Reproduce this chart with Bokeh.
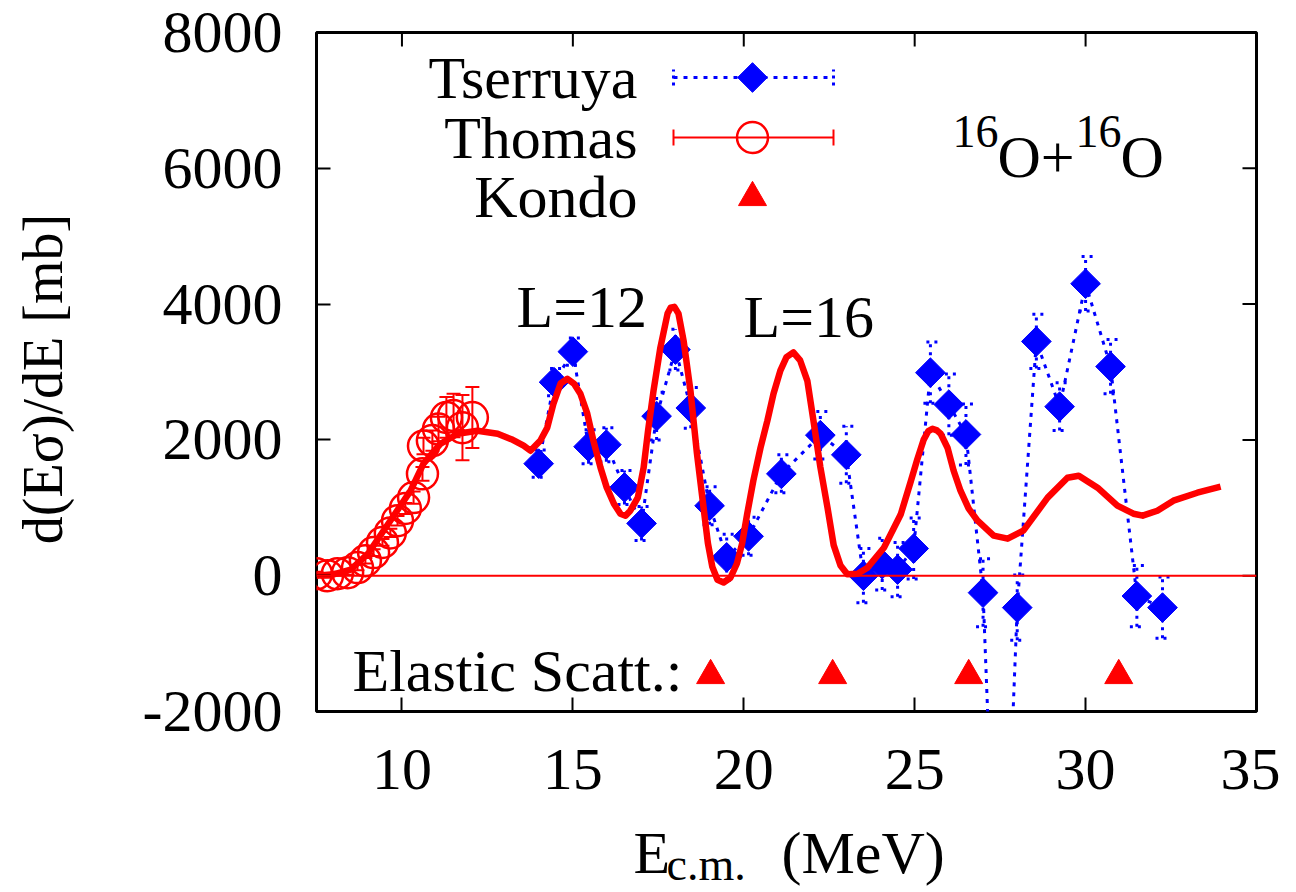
import math
from bokeh.plotting import figure
from bokeh.layouts import column
from bokeh.models import (ColumnDataSource, Whisker, TeeHead, Label, Span,
                          FixedTicker, Range1d)
from bokeh.embed import file_html
from bokeh.resources import INLINE

# ---------------- data ----------------
tserruya_E = [14.0, 14.45, 15.0, 15.46, 15.98, 16.51, 17.01, 17.45, 18.0, 18.45,
              19.0, 19.5, 20.14, 21.1, 22.24, 23.0, 23.5, 24.05, 24.5, 24.97,
              25.46, 26.0, 26.5, 27.0, 27.5, 28.0, 28.56, 29.24, 30.0, 30.73,
              31.5, 32.25]
tserruya_Y = [1650, 2850, 3300, 1900, 1930, 1300, 770, 2350, 3330, 2470,
              1030, 270, 580, 1500, 2070, 1780, 0, 170, 90, 400,
              2990, 2520, 2080, -250, -6800, -470, 3450, 2490, 4300, 3080,
              -300, -470]
tserruya_err = [200, 200, 200, 250, 250, 250, 250, 350, 300, 300,
                280, 340, 280, 280, 350, 420, 400, 380, 400, 450,
                450, 450, 450, 500, 600, 480, 400, 350, 400, 400,
                450, 450]

thomas_E = [7.5, 7.82, 8.11, 8.41, 8.7, 8.93, 9.17, 9.43, 9.66, 9.87,
            10.1, 10.34, 10.6, 10.63, 10.89, 11.07, 11.3, 11.51, 11.77, 12.06]
thomas_Y = [30, 0, 30, 45, 120, 220, 340, 490, 630, 810,
            990, 1150, 1500, 1910, 1990, 2160, 2330, 2360, 2180, 2330]
thomas_err = [30, 30, 30, 30, 40, 40, 50, 50, 60, 70,
              80, 90, 100, 120, 150, 180, 300, 320, 480, 450]

kondo_E = [19.03, 22.6, 26.58, 30.97]
kondo_Y = [-1470, -1470, -1470, -1470]

theory_E = [7.5, 8.0, 8.5, 9.0, 9.66, 10.25, 10.63, 11.13, 11.63, 12.21,
            12.8, 13.2, 13.56, 13.76, 14.05, 14.25, 14.43, 14.64, 14.84, 15.03,
            15.22, 15.42, 15.6, 15.81, 15.99, 16.2, 16.39, 16.54, 16.68, 16.9,
            17.07, 17.2, 17.36, 17.56, 17.77, 17.86, 17.97, 18.09, 18.24, 18.44,
            18.63, 18.8, 18.95, 19.08, 19.23, 19.41, 19.61, 19.8, 19.95, 20.1,
            20.28, 20.49, 20.69, 20.87, 21.07, 21.25, 21.45, 21.65, 21.86, 22.04,
            22.24, 22.45, 22.63, 22.83, 23.03, 23.33, 23.62, 24.1, 24.59, 24.88,
            25.08, 25.26, 25.4, 25.52, 25.65, 25.76, 25.96, 26.14, 26.34, 26.58,
            26.84, 27.31, 27.72, 28.18, 28.89, 29.47, 29.8, 30.35, 30.93, 31.4,
            31.67, 32.1, 32.57, 33.27, 33.95]
theory_Y = [0, 20, 90, 320, 810, 1250, 1650, 1944, 2090, 2135,
            2090, 2010, 1915, 1840, 1990, 2180, 2530, 2830, 2900, 2830,
            2680, 2390, 1990, 1590, 1300, 1060, 913, 884, 957, 1150,
            1590, 2135, 2725, 3360, 3860, 3947, 3960, 3860, 3460, 2725,
            1800, 1100, 480, 130, -60, -100, -30, 180, 470, 910,
            1400, 1885, 2283, 2680, 3020, 3220, 3290, 3170, 2870, 2280,
            1600, 1000, 450, 150, 20, 30, 118, 412, 900, 1380,
            1720, 2000, 2130, 2165, 2140, 2091, 1885, 1546, 1252, 987,
            810, 590, 545, 663, 1150, 1443, 1473, 1296, 1031, 913,
            884, 957, 1105, 1222, 1311]

x_ticks = [10, 15, 20, 25, 30, 35]
x_tick_labels = ["10", "15", "20", "25", "30", "35"]
y_ticks = [-2000, 0, 2000, 4000, 6000, 8000]
y_tick_labels = ["-2000", "0", "2000", "4000", "6000", "8000"]

# ---------------- layout / style ----------------
X_MIN, X_MAX = 7.5, 35
Y_MIN, Y_MAX = -2000, 8000
FONT = "Liberation Serif"
FS_PX = 60
FS = f"{FS_PX}px"
FS_SMALL_PX = 46
RED = "#ff0000"
BLUE = "#0000ff"
W = 1280
H_MAIN = 815
H_TITLE = 77
BASE_SHIFT = 0.35   # baseline correction (fraction of font size)

# frame position on the page (pixels)
FX0, FX1, FY0, FY1 = 316, 1256, 32, 711


def dx(px):
    return X_MIN + (px - FX0) * (X_MAX - X_MIN) / (FX1 - FX0)


def dy(py):
    return Y_MIN + (FY1 - py) * (Y_MAX - Y_MIN) / (FY1 - FY0)


p = figure(width=W, height=H_MAIN, x_range=(X_MIN, X_MAX), y_range=(Y_MIN, Y_MAX),
           output_backend="svg", toolbar_location=None,
           min_border_left=FX0, min_border_right=W - FX1, min_border_top=FY0,
           min_border_bottom=H_MAIN - FY1)
p.xgrid.visible = False
p.ygrid.visible = False
p.outline_line_color = "black"
p.outline_line_width = 3
p.outline_line_alpha = 1.0
p.background_fill_color = "white"
p.border_fill_color = "white"

for ax in (p.xaxis[0], p.yaxis[0]):
    ax.axis_line_color = None
    ax.major_tick_in = 14
    ax.major_tick_out = 0
    ax.major_tick_line_width = 2
    ax.major_tick_line_color = "black"
    ax.minor_tick_line_color = None
    ax.major_label_text_font = FONT
    ax.major_label_text_color = "black"
    ax.major_label_text_font_size = FS

p.xaxis.ticker = FixedTicker(ticks=x_ticks)
p.xaxis.major_label_overrides = {t: l for t, l in zip(x_ticks, x_tick_labels)}
p.yaxis.ticker = FixedTicker(ticks=y_ticks)
p.yaxis.major_label_overrides = {t: l for t, l in zip(y_ticks, y_tick_labels)}
p.xaxis.major_label_standoff = 38
p.yaxis.major_label_standoff = 34

p.yaxis.axis_label = "d(E\u03c3)/dE  [mb]"
p.yaxis.axis_label_text_font = FONT
p.yaxis.axis_label_text_font_size = "56px"
p.yaxis.axis_label_text_font_style = "normal"
p.yaxis.axis_label_text_color = "black"
p.yaxis.axis_label_standoff = 66

# ticks on the right and top borders (mirror of the main ticks)
tlx = 14 * (X_MAX - X_MIN) / (FX1 - FX0)
tly = 14 * (Y_MAX - Y_MIN) / (FY1 - FY0)
p.segment([X_MAX - tlx] * len(y_ticks), y_ticks, [X_MAX] * len(y_ticks), y_ticks,
          line_color="black", line_width=2)
p.segment(x_ticks, [Y_MAX - tly] * len(x_ticks), x_ticks, [Y_MAX] * len(x_ticks),
          line_color="black", line_width=2)

# ---------------- Tserruya ----------------
ts_src = ColumnDataSource(dict(x=tserruya_E, y=tserruya_Y))
p.line("x", "y", source=ts_src, line_color=BLUE, line_width=3, line_dash="4 6")
ts_in = [i for i, v in enumerate(tserruya_Y) if Y_MIN < v < Y_MAX]
ts_err_src = ColumnDataSource(dict(
    x=[tserruya_E[i] for i in ts_in],
    lo=[tserruya_Y[i] - tserruya_err[i] for i in ts_in],
    hi=[tserruya_Y[i] + tserruya_err[i] for i in ts_in]))
p.add_layout(Whisker(source=ts_err_src, base="x", lower="lo", upper="hi",
                     dimension="height", line_color=BLUE, line_width=3, line_dash="3 5",
                     upper_head=TeeHead(size=14, line_color=BLUE, line_width=3, line_dash="3 5"),
                     lower_head=TeeHead(size=14, line_color=BLUE, line_width=3, line_dash="3 5")))
p.scatter("x", "y", source=ts_src, marker="square", angle=math.pi / 4, size=21,
          fill_color=BLUE, line_color=BLUE, line_width=1)

# ---------------- Thomas ----------------
th_src = ColumnDataSource(dict(x=thomas_E, y=thomas_Y,
                               lo=[y - e for y, e in zip(thomas_Y, thomas_err)],
                               hi=[y + e for y, e in zip(thomas_Y, thomas_err)]))
p.add_layout(Whisker(source=th_src, base="x", lower="lo", upper="hi",
                     dimension="height", line_color=RED, line_width=2,
                     upper_head=TeeHead(size=14, line_color=RED, line_width=2),
                     lower_head=TeeHead(size=14, line_color=RED, line_width=2)))
p.scatter("x", "y", source=th_src, marker="circle", size=31, fill_color=None,
          line_color=RED, line_width=2.5)

# zero line
p.add_layout(Span(location=0, dimension="width", line_color=RED, line_width=2))

# theory curve
p.line(theory_E, theory_Y, line_color=RED, line_width=6.5, line_join="round")

# Kondo
p.scatter(kondo_E, kondo_Y, marker="triangle", size=28, fill_color=RED,
          line_color=RED, line_width=1)

# ---------------- texts ----------------


def lab(fig, text, x, y, size_px, align="left", conv=True):
    """Place a text whose alphabetic baseline is at page pixel (x, y)."""
    yb = y - BASE_SHIFT * size_px
    if conv:
        xx, yy = dx(x), dy(yb)
    else:
        xx, yy = x, yb
    fig.add_layout(Label(x=xx, y=yy, text=text, text_font=FONT,
                         text_font_size=f"{size_px}px", text_color="black",
                         text_align=align, text_baseline="alphabetic"))


lab(p, "L=12", 516, 327, FS_PX)
lab(p, "L=16", 743, 337, FS_PX)
lab(p, "Elastic Scatt.:", 352, 691, FS_PX)
lab(p, "16", 952, 147, FS_SMALL_PX)
lab(p, "O+", 997, 177, FS_PX)
lab(p, "16", 1075, 147, FS_SMALL_PX)
lab(p, "O", 1120, 177, FS_PX)

# ---------------- legend (gnuplot style: text then sample) ----------------
lab(p, "Tserruya", 637, 98, FS_PX, align="right")
lab(p, "Thomas", 637, 158, FS_PX, align="right")
lab(p, "Kondo", 637, 217, FS_PX, align="right")

L0, L1, LM = dx(673), dx(833), dx(752)
r1, r2, r3 = dy(77), dy(137), dy(197)
cap = dy(77 - 8) - dy(77)
p.segment([L0], [r1], [L1], [r1], line_color=BLUE, line_width=3, line_dash="4 6")
p.segment([L0, L1], [r1 - cap, r1 - cap], [L0, L1], [r1 + cap, r1 + cap],
          line_color=BLUE, line_width=3, line_dash="3 4")
p.scatter([LM], [r1], marker="square", angle=math.pi / 4, size=21,
          fill_color=BLUE, line_color=BLUE)
p.segment([L0], [r2], [L1], [r2], line_color=RED, line_width=2)
p.segment([L0, L1], [r2 - cap, r2 - cap], [L0, L1], [r2 + cap, r2 + cap],
          line_color=RED, line_width=2)
p.scatter([LM], [r2], marker="circle", size=31, fill_color=None,
          line_color=RED, line_width=2.5)
p.scatter([LM], [r3], marker="triangle", size=28, fill_color=RED, line_color=RED)

# ---------------- x-axis title strip (page pixel coordinates) ----------------
# the column layout aligns this strip's frame with the main frame (FX0..FX1)
t = figure(width=W, height=H_TITLE, x_range=Range1d(FX0, FX1),
           y_range=Range1d(H_MAIN + H_TITLE, H_MAIN),
           output_backend="svg", toolbar_location=None,
           x_axis_location=None, y_axis_location=None,
           min_border_left=FX0, min_border_right=W - FX1,
           min_border_top=0, min_border_bottom=0)
t.xgrid.visible = False
t.ygrid.visible = False
t.outline_line_color = None
t.background_fill_color = "white"
t.border_fill_color = "white"
lab(t, "E", 633, 873, FS_PX, conv=False)
lab(t, "c.m.", 666, 880, FS_SMALL_PX, conv=False)
lab(t, "(MeV)", 781, 873, FS_PX, conv=False)

open("out.html", "w").write(file_html(column(p, t), INLINE))
